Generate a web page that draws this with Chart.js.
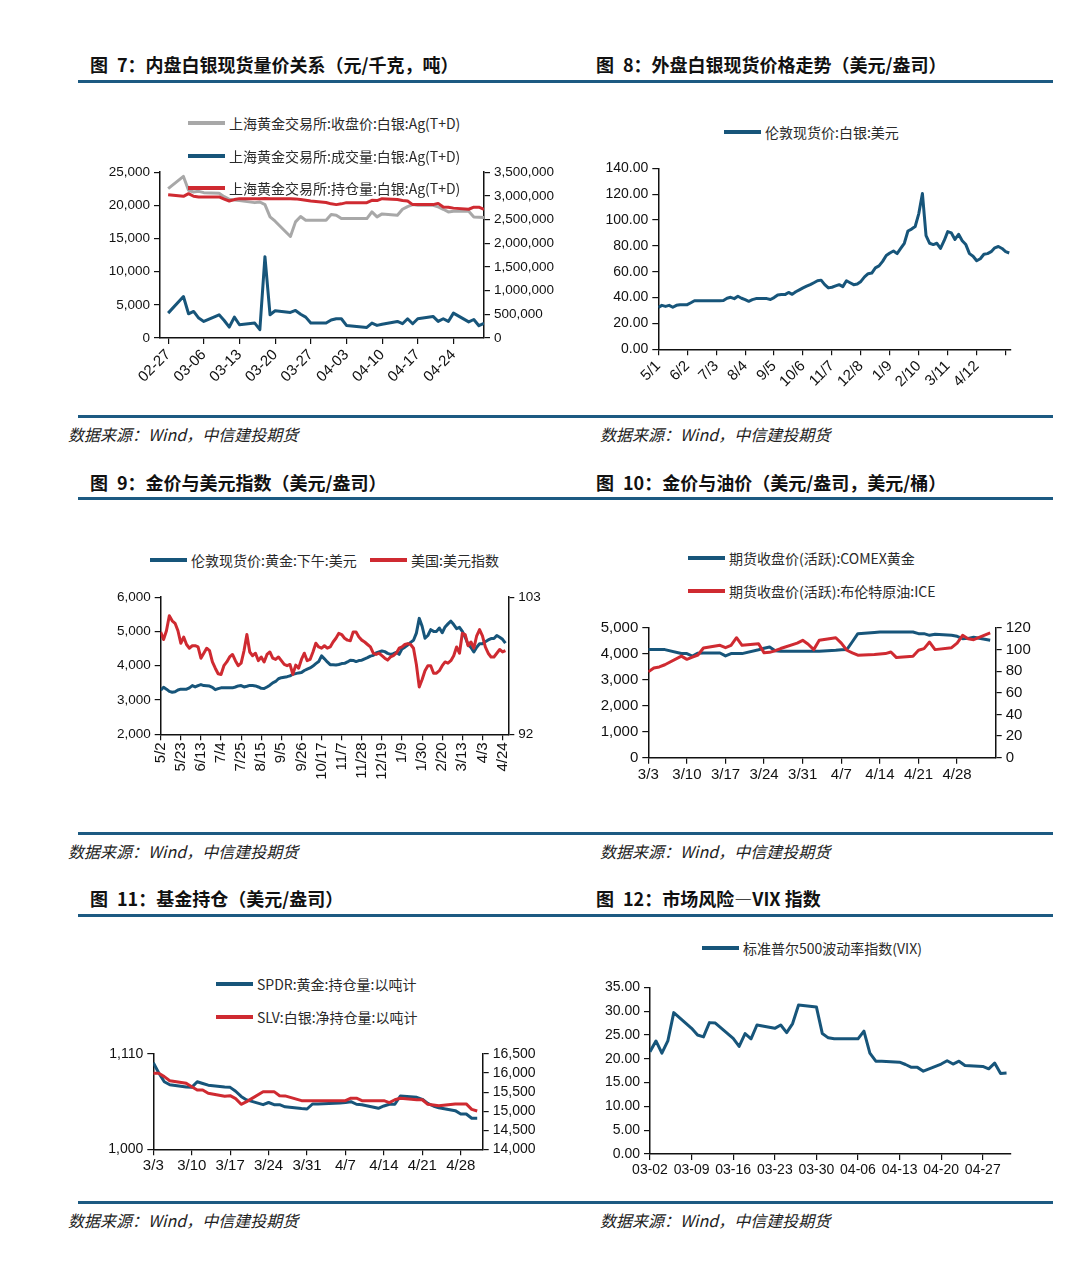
<!DOCTYPE html>
<html lang="zh-CN">
<head>
<meta charset="utf-8">
<title>贵金属图表</title>
<script src="https://cdn.jsdelivr.net/npm/chart.js"></script>
<style>
  body { margin: 0; background: #fff; }
  #page { position: relative; width: 1079px; height: 1268px; overflow: hidden; font-family: "Noto Sans CJK SC", sans-serif; }
  .title { position: absolute; font-size: 18px; font-weight: bold; color: #111; line-height: 1; transform: translateY(-50%); white-space: nowrap; }
  .rule { position: absolute; left: 78px; width: 975px; height: 3px; background: #1c5a82; }
  .source { position: absolute; font-size: 16px; font-style: italic; color: #222; line-height: 1; transform: translateY(-50%); white-space: nowrap; }
  .legend { position: absolute; display: flex; align-items: center; font-size: 14px; color: #2a2a2a; line-height: 1; transform: translateY(-50%); white-space: nowrap; }
  .legend i { display: inline-block; width: 37px; height: 3.5px; margin-right: 4px; }
  canvas { position: absolute; }
</style>
</head>
<body>
<div id="page">
  <!-- linha 1 -->
  <div class="title" style="left:90px;top:64px">图&ensp;7：内盘白银现货量价关系（元/千克，吨）</div>
  <div class="title" style="left:596px;top:64px">图&ensp;8：外盘白银现货价格走势（美元/盎司）</div>
  <div class="rule" style="top:79.5px"></div>
  <canvas id="c7" width="500" height="245" style="left:60px;top:160px"></canvas>
  <canvas id="c8" width="500" height="260" style="left:565px;top:155px"></canvas>
  <div class="legend" style="left:188px;top:123px"><i style="background:#a8a8a8"></i>上海黄金交易所:收盘价:白银:Ag(T+D)</div>
  <div class="legend" style="left:188px;top:156px"><i style="background:#17557a"></i>上海黄金交易所:成交量:白银:Ag(T+D)</div>
  <div class="legend" style="left:188px;top:188px"><i style="background:#cf2a31"></i>上海黄金交易所:持仓量:白银:Ag(T+D)</div>
  <div class="legend" style="left:724px;top:132px"><i style="background:#17557a"></i>伦敦现货价:白银:美元</div>
  <div class="rule" style="top:414.5px"></div>
  <div class="source" style="left:68px;top:434px">数据来源：Wind，中信建投期货</div>
  <div class="source" style="left:600px;top:434px">数据来源：Wind，中信建投期货</div>

  <!-- linha 2 -->
  <div class="title" style="left:90px;top:481.5px">图&ensp;9：金价与美元指数（美元/盎司）</div>
  <div class="title" style="left:596px;top:481.5px">图&ensp;10：金价与油价（美元/盎司，美元/桶）</div>
  <div class="rule" style="top:496.8px"></div>
  <canvas id="c9" width="500" height="215" style="left:60px;top:585px"></canvas>
  <canvas id="c10" width="500" height="180" style="left:565px;top:615px"></canvas>
  <div class="legend" style="left:150px;top:560px"><i style="background:#17557a"></i>伦敦现货价:黄金:下午:美元</div>
  <div class="legend" style="left:370px;top:560px"><i style="background:#cf2a31"></i>美国:美元指数</div>
  <div class="legend" style="left:688px;top:558px"><i style="background:#17557a"></i>期货收盘价(活跃):COMEX黄金</div>
  <div class="legend" style="left:688px;top:591px"><i style="background:#cf2a31"></i>期货收盘价(活跃):布伦特原油:ICE</div>
  <div class="rule" style="top:831.8px"></div>
  <div class="source" style="left:68px;top:851px">数据来源：Wind，中信建投期货</div>
  <div class="source" style="left:600px;top:851px">数据来源：Wind，中信建投期货</div>

  <!-- linha 3 -->
  <div class="title" style="left:90px;top:898px">图&ensp;11：基金持仓（美元/盎司）</div>
  <div class="title" style="left:596px;top:898px">图&ensp;12：市场风险—VIX 指数</div>
  <div class="rule" style="top:913.5px"></div>
  <canvas id="c11" width="500" height="150" style="left:60px;top:1040px"></canvas>
  <canvas id="c12" width="500" height="215" style="left:565px;top:975px"></canvas>
  <div class="legend" style="left:216px;top:984px"><i style="background:#17557a"></i>SPDR:黄金:持仓量:以吨计</div>
  <div class="legend" style="left:216px;top:1017px"><i style="background:#cf2a31"></i>SLV:白银:净持仓量:以吨计</div>
  <div class="legend" style="left:702px;top:948px"><i style="background:#17557a"></i>标准普尔500波动率指数(VIX)</div>
  <div class="rule" style="top:1201px"></div>
  <div class="source" style="left:68px;top:1220px">数据来源：Wind，中信建投期货</div>
  <div class="source" style="left:600px;top:1220px">数据来源：Wind，中信建投期货</div>
</div>

<script>
// Dados (um valor por dia de calendário, null = fim de semana / feriado)

// Gráfico 7 - 上海黄金交易所 Ag(T+D), 02-27 a 04-30
var c7Ticks = ["02-27", "03-06", "03-13", "03-20", "03-27", "04-03", "04-10", "04-17", "04-24"];
var c7Price = [
  22500, null, null, 24350, 22250, 22000, 22100, 21900, null, null,
  21800, 21300, 20900, 20800, 20700, null, null, 20400, 20500, 20100,
  18250, 17600, null, null, 15300, 17500, 18300, 17750, 17750, null,
  null, 17750, 18600, 18500, 18000, 18000, null, null, null, 18000,
  19000, 18250, 18700, null, null, 18500, 19400, 19800, 20100, 20000,
  null, null, 20000, 19750, 19400, 19000, 19100, null, null, 19100,
  18250, 18200, 18150
];
var c7Volume = [
  525000, null, null, 875000, 511000, 560000, 420000, 350000, null, null,
  490000, 370000, 231000, 441000, 280000, null, null, 315000, 175000, 1715000,
  490000, 574000, null, null, 539000, 581000, 500000, 440000, 315000, null,
  null, 315000, 380000, 406000, 406000, 266000, null, null, null, 224000,
  315000, 266000, 290000, null, null, 350000, 301000, 406000, 301000, 406000,
  null, null, 455000, 350000, 406000, 350000, 525000, null, null, 340000,
  390000, 260000, 310000
];
var c7Oi = [
  3024000, null, null, 2989000, 3045000, 2990000, 2975000, 2975000, null, null,
  2975000, 2930000, 2891000, 2920000, 2940000, null, null, 2940000, 2940000, 2945000,
  2940000, 2940000, null, null, 2940000, 2935000, 2920000, 2905000, 2890000, null,
  null, 2860000, 2830000, 2814000, 2830000, 2856000, null, null, null, 2856000,
  2905000, 2900000, 2940000, null, null, 2920000, 2900000, 2890000, 2814000, 2814000,
  null, null, 2814000, 2840000, 2765000, 2760000, 2740000, null, null, 2716000,
  2760000, 2760000, 2716000
];

// Gráfico 8 - prata em Londres, uma amostra a cada ~3 pregões, rótulo a cada 8 amostras
var c8Ticks = ["5/1", "6/2", "7/3", "8/4", "9/5", "10/6", "11/7", "12/8", "1/9", "2/10", "3/11", "4/12", ""];
var c8Silver = [
  32.4, 34, 33.2, 34, 32.5, 34, 34.5, 34.5,
  34.5, 36, 37.6, 37.6, 37.6, 37.6, 37.5, 37.5,
  37.5, 37.6, 37.8, 39.5, 40.2, 39.2, 41, 39.5,
  38.4, 37.1, 38.4, 39.2, 39.2, 39.2, 39.2, 38.5,
  40, 42, 42.3, 42.3, 44, 42.5, 44.5, 46,
  47.5, 48.8, 50, 51.5, 53, 53.5, 50, 47.5,
  48, 49, 50, 48.5, 53, 51.5, 50, 50.5,
  52.5, 56, 58.5, 59, 63, 64.5, 68, 72.5,
  74.5, 76, 74, 78, 82, 91.5, 93, 95,
  105, 120.5, 88, 82, 81, 82, 78, 84,
  91, 90, 85, 89, 84, 81, 74, 72,
  68.5, 70, 73.5, 74, 75.5, 78.5, 79.5, 78,
  75.5, 74.5
];

// Gráfico 9 - ouro x índice do dólar, uma amostra a cada 3 dias, rótulo a cada 21 dias
var c9Ticks = ["5/2", "5/23", "6/13", "7/4", "7/25", "8/15", "9/5", "9/26", "10/17", "11/7", "11/28", "12/19", "1/9", "1/30", "2/20", "3/13", "4/3", "4/24"];
var c9Gold = [
  3287, 3370, 3316, 3250, 3225, 3240, 3290, 3316, 3310, 3316,
  3355, 3420, 3380, 3420, 3450, 3420, 3415, 3405, 3370, 3300,
  3330, 3355, 3355, 3355, 3355, 3355, 3380, 3410, 3420, 3380,
  3400, 3425, 3420, 3410, 3380, 3340, 3335, 3380, 3432, 3500,
  3540, 3620, 3650, 3665, 3680, 3705, 3750, 3770, 3790, 3800,
  3860, 3900, 3936, 3990, 4060, 4120, 4285, 4200, 4110, 4030,
  4025, 4020, 4035, 4062, 4070, 4110, 4160, 4155, 4120, 4150,
  4160, 4200, 4235, 4280, 4300, 4370, 4400, 4430, 4410, 4360,
  4330, 4350, 4390, 4330, 4490, 4540, 4605, 4680, 4740, 4950,
  5380, 5150, 4800, 4880, 5050, 5000, 5000, 5100, 4960, 5130,
  5220, 5300, 5200, 5080, 5120, 5000, 4830, 4620, 4530, 4400,
  4540, 4640, 4643, 4700, 4750, 4790, 4790, 4880, 4830, 4770, 4660
];
var c9Dxy = [
  100.2, 99.6, 100.3, 101.5, 101.1, 100.9, 100.3, 99.3, 99.8, 99.2,
  98.9, 99.1, 99.1, 99.0, 98.1, 98.5, 98.9, 98.7, 97.8, 97.3,
  96.85, 96.8, 97.5, 97.8, 98.2, 98.4, 97.9, 97.5, 97.7, 98.7,
  100.0, 98.6, 98.3, 98.5, 97.9, 98.2, 97.8, 98.4, 98.6, 98.1,
  98.0, 98.2, 97.9, 97.6, 97.5, 97.6, 96.8, 97.55, 97.3, 98.0,
  98.5, 97.9, 98.0, 98.6, 99.3, 99.0, 98.9, 99.1, 98.9, 99.0,
  99.4, 99.7, 100.1, 100.0, 99.7, 99.55, 99.5, 100.2, 100.2, 99.8,
  99.55, 99.4, 99.2, 99.0, 98.5, 98.4, 98.5, 98.3, 98.1, 97.95,
  98.2, 98.3, 98.5, 98.9, 99.0, 99.2, 99.27, 99.2, 98.9, 97.6,
  95.8, 96.4, 97.1, 97.5, 97.5, 96.9, 96.9, 97.1, 97.5, 97.8,
  97.7, 97.9, 98.3, 99.0, 98.5, 100.1, 100.0, 99.1, 99.4, 98.9,
  99.9, 100.4, 99.9, 99.0, 98.5, 98.2, 98.2, 98.5, 98.8, 98.6, 98.7
];

// Gráfico 10 - COMEX ouro x Brent, 3/3 a 5/4
var c10Ticks = ["3/3", "3/10", "3/17", "3/24", "3/31", "4/7", "4/14", "4/21", "4/28"];
var c10Gold = [
  4167, 4167, 4167, 4167, null, null, 4020, 4013, 3920, 4030,
  4038, null, null, 4038, 3923, 4013, 4013, 4013, null, null,
  4160, 4220, 4269, 4120, 4100, null, null, 4100, 4100, 4100,
  4100, 4100, null, null, 4140, 4160, 4167, 4470, 4782, null,
  null, 4830, 4846, 4846, 4846, 4846, null, null, 4846, 4782,
  4782, 4718, 4760, null, null, 4718, 4680, 4590, 4600, 4640,
  null, null, 4526
];
var c10Brent = [
  79.4, 83, 84, 86, null, null, 94, 91, 93, 95,
  101.5, null, null, 104, 101.8, 104, 111, 104, null, null,
  105.5, 97, 97.5, 99, 101, null, null, 106, 108.6, 105,
  100, 108.6, null, null, 111, 106, 99.4, 97, 94.8, null,
  null, 95.5, 96, 96.3, 97.8, 92.6, null, null, 93.8, 99.4,
  100.9, 107, 100, null, null, 101.8, 106, 113.2, 110, 109.2,
  null, null, 115.4
];

// Gráfico 11 - SPDR x SLV, 3/3 a 5/1
var c11Ticks = ["3/3", "3/10", "3/17", "3/24", "3/31", "4/7", "4/14", "4/21", "4/28"];
var c11Spdr = [
  1100, 1088, 1078, 1074.5, null, null, 1072, 1071.5, 1078, 1076,
  1074, null, null, 1072, 1071.5, 1067, 1061, 1057, null, null,
  1051.5, 1054, 1051.5, 1051.5, 1049, null, null, 1047, 1046.5, 1052.3,
  1052.3, 1052.5, null, null, 1053.5, 1054, 1055, 1052, 1051.5, null,
  null, 1047.3, 1050, 1052, 1052, 1061.5, null, null, 1060, 1057.7,
  1053, 1050, 1048, null, null, 1044.6, 1040.8, 1040.8, 1035.8, 1035.8
];
var c11Slv = [
  15993, 15993, 15906, 15800, null, null, 15730, 15643, 15556, 15556,
  15469, null, null, 15390, 15407, 15330, 15180, 15250, null, null,
  15512, 15512, 15512, 15407, 15400, null, null, 15276, 15276, 15276,
  15276, 15276, null, null, 15276, 15276, 15340, 15340, 15276, null,
  null, 15276, 15276, 15225, 15300, 15340, null, null, 15300, 15300,
  15180, 15163, 15140, null, null, 15190, 15190, 15190, 15049, 15005
];

// Gráfico 12 - VIX, 03-02 a 05-01
var c12Ticks = ["03-02", "03-09", "03-16", "03-23", "03-30", "04-06", "04-13", "04-20", "04-27"];
var c12Vix = [
  21.5, 23.75, 21.2, 23.75, 29.7, null, null, 26.4, 25.0, 24.6,
  27.6, 27.5, null, null, 24.3, 22.6, 25.3, 24.2, 27.1, null,
  null, 26.4, 27.1, 25.5, 27.4, 31.3, null, null, 30.9, 25.3,
  24.4, 24.2, 24.2, null, null, 24.2, 25.8, 21.2, 19.5, 19.5,
  null, null, 19.3, 18.8, 18.2, 18.2, 17.4, null, null, 18.9,
  19.6, 18.9, 19.5, 18.6, null, null, 18.4, 17.9, 19.1, 16.9,
  17.0
];

var BLUE = "#17557a";
var RED = "#cf2a31";
var GRAY = "#a8a8a8";

Chart.defaults.color = "#111";
Chart.defaults.font.family = "'Liberation Sans', Arial, sans-serif";

// transforma a lista de valores em pontos {x, y}
function toPoints(values, step) {
  var pts = [];
  for (var i = 0; i < values.length; i++) {
    pts.push({ x: i * step, y: values[i] });
  }
  return pts;
}

function comma(v) { return v.toLocaleString("en-US"); }
function fixed2(v) { return v.toFixed(2); }

// eixo x: um rótulo a cada "step" unidades
function xAxis(labels, step, min, max, height, size, rotation) {
  return {
    type: "linear",
    min: min,
    max: max,
    afterBuildTicks: function (scale) {
      scale.ticks = labels.map(function (l, i) { return { value: i * step }; });
    },
    afterFit: function (scale) { scale.height = height; },
    ticks: {
      autoSkip: false,
      minRotation: rotation,
      maxRotation: rotation,
      padding: 2,
      font: { size: size },
      callback: function (value) { return labels[Math.round(value / step)]; },
    },
    grid: { drawOnChartArea: false, tickLength: 6, color: "#111", lineWidth: 1.2 },
    border: { color: "#111", width: 1.5 },
  };
}

function yAxis(position, min, max, step, width, size, fmt) {
  return {
    type: "linear",
    position: position,
    min: min,
    max: max,
    afterFit: function (scale) { scale.width = width; },
    ticks: { stepSize: step, autoSkip: false, padding: 4, font: { size: size }, callback: fmt },
    grid: { drawOnChartArea: false, tickLength: 6, color: "#111", lineWidth: 1.2 },
    border: { color: "#111", width: 1.5 },
  };
}

function serie(label, values, step, color, axis, order) {
  return {
    label: label,
    data: toPoints(values, step),
    borderColor: color,
    backgroundColor: color,
    borderWidth: 3,
    borderJoinStyle: "round",
    pointRadius: 0,
    spanGaps: true,
    tension: 0,
    yAxisID: axis,
    order: order,
  };
}

function makeChart(id, datasets, scales, padding) {
  return new Chart(document.getElementById(id), {
    type: "line",
    data: { datasets: datasets },
    options: {
      responsive: false,
      animation: false,
      layout: { padding: padding },
      scales: scales,
      plugins: { legend: { display: false }, tooltip: { enabled: false } },
    },
  });
}

// Gráfico 7
function renderChart7() {
  makeChart("c7", [
    serie("收盘价", c7Price, 1, GRAY, "y", 2),
    serie("成交量", c7Volume, 1, BLUE, "y2", 1),
    serie("持仓量", c7Oi, 1, RED, "y2", 0),
  ], {
    x: xAxis(c7Ticks, 7, -1.6, 62, 67, 15, 45),
    y: yAxis("left", 0, 25000, 5000, 100, 13.5, comma),
    y2: yAxis("right", 0, 3500000, 500000, 76, 13.5, comma),
  }, { top: 11, right: 0, bottom: 0, left: 0 });
}

// Gráfico 8
function renderChart8() {
  makeChart("c8", [
    serie("伦敦现货价:白银:美元", c8Silver, 1, BLUE, "y", 0),
  ], {
    x: xAxis(c8Ticks, 8, 0, 97.4, 65.7, 15, 45),
    y: yAxis("left", 0, 140, 20, 93.3, 14, fixed2),
  }, { top: 13.3, right: 54.3, bottom: 0, left: 0 });
}

// Gráfico 9
function renderChart9() {
  makeChart("c9", [
    serie("伦敦现货价:黄金:下午:美元", c9Gold, 3, BLUE, "y", 1),
    serie("美国:美元指数", c9Dxy, 3, RED, "y2", 0),
  ], {
    x: xAxis(c9Ticks, 21, 0, 363, 65.7, 15, 90),
    y: yAxis("left", 2000, 6000, 1000, 100.7, 13.5, comma),
    y2: yAxis("right", 92, 103, 11, 51.7, 13.5, comma),
  }, { top: 11.7, right: 0, bottom: 0, left: 0 });
}

// Gráfico 10
function renderChart10() {
  makeChart("c10", [
    serie("COMEX黄金", c10Gold, 1, BLUE, "y", 1),
    serie("布伦特原油", c10Brent, 1, RED, "y2", 0),
  ], {
    x: xAxis(c10Ticks, 7, 0, 63, 37.3, 15, 0),
    y: yAxis("left", 0, 5000, 1000, 83.3, 15, comma),
    y2: yAxis("right", 0, 120, 20, 69.3, 15, comma),
  }, { top: 12.7, right: 0, bottom: 0, left: 0 });
}

// Gráfico 11
function renderChart11() {
  makeChart("c11", [
    serie("SPDR", c11Spdr, 1, BLUE, "y", 1),
    serie("SLV", c11Slv, 1, RED, "y2", 0),
  ], {
    x: xAxis(c11Ticks, 7, 0, 60, 40.7, 15, 0),
    y: yAxis("left", 1000, 1110, 110, 93.3, 14, comma),
    y2: yAxis("right", 14000, 16500, 500, 77.3, 14, comma),
  }, { top: 14, right: 0, bottom: 0, left: 0 });
}

// Gráfico 12
function renderChart12() {
  makeChart("c12", [
    serie("VIX", c12Vix, 1, BLUE, "y", 0),
  ], {
    x: xAxis(c12Ticks, 7, 0, 60.7, 36, 14, 0),
    y: yAxis("left", 0, 35, 5, 85, 14, fixed2),
  }, { top: 10, right: 54.3, bottom: 0, left: 0 });
}

renderChart7();
renderChart8();
renderChart9();
renderChart10();
renderChart11();
renderChart12();
</script>
</body>
</html>
